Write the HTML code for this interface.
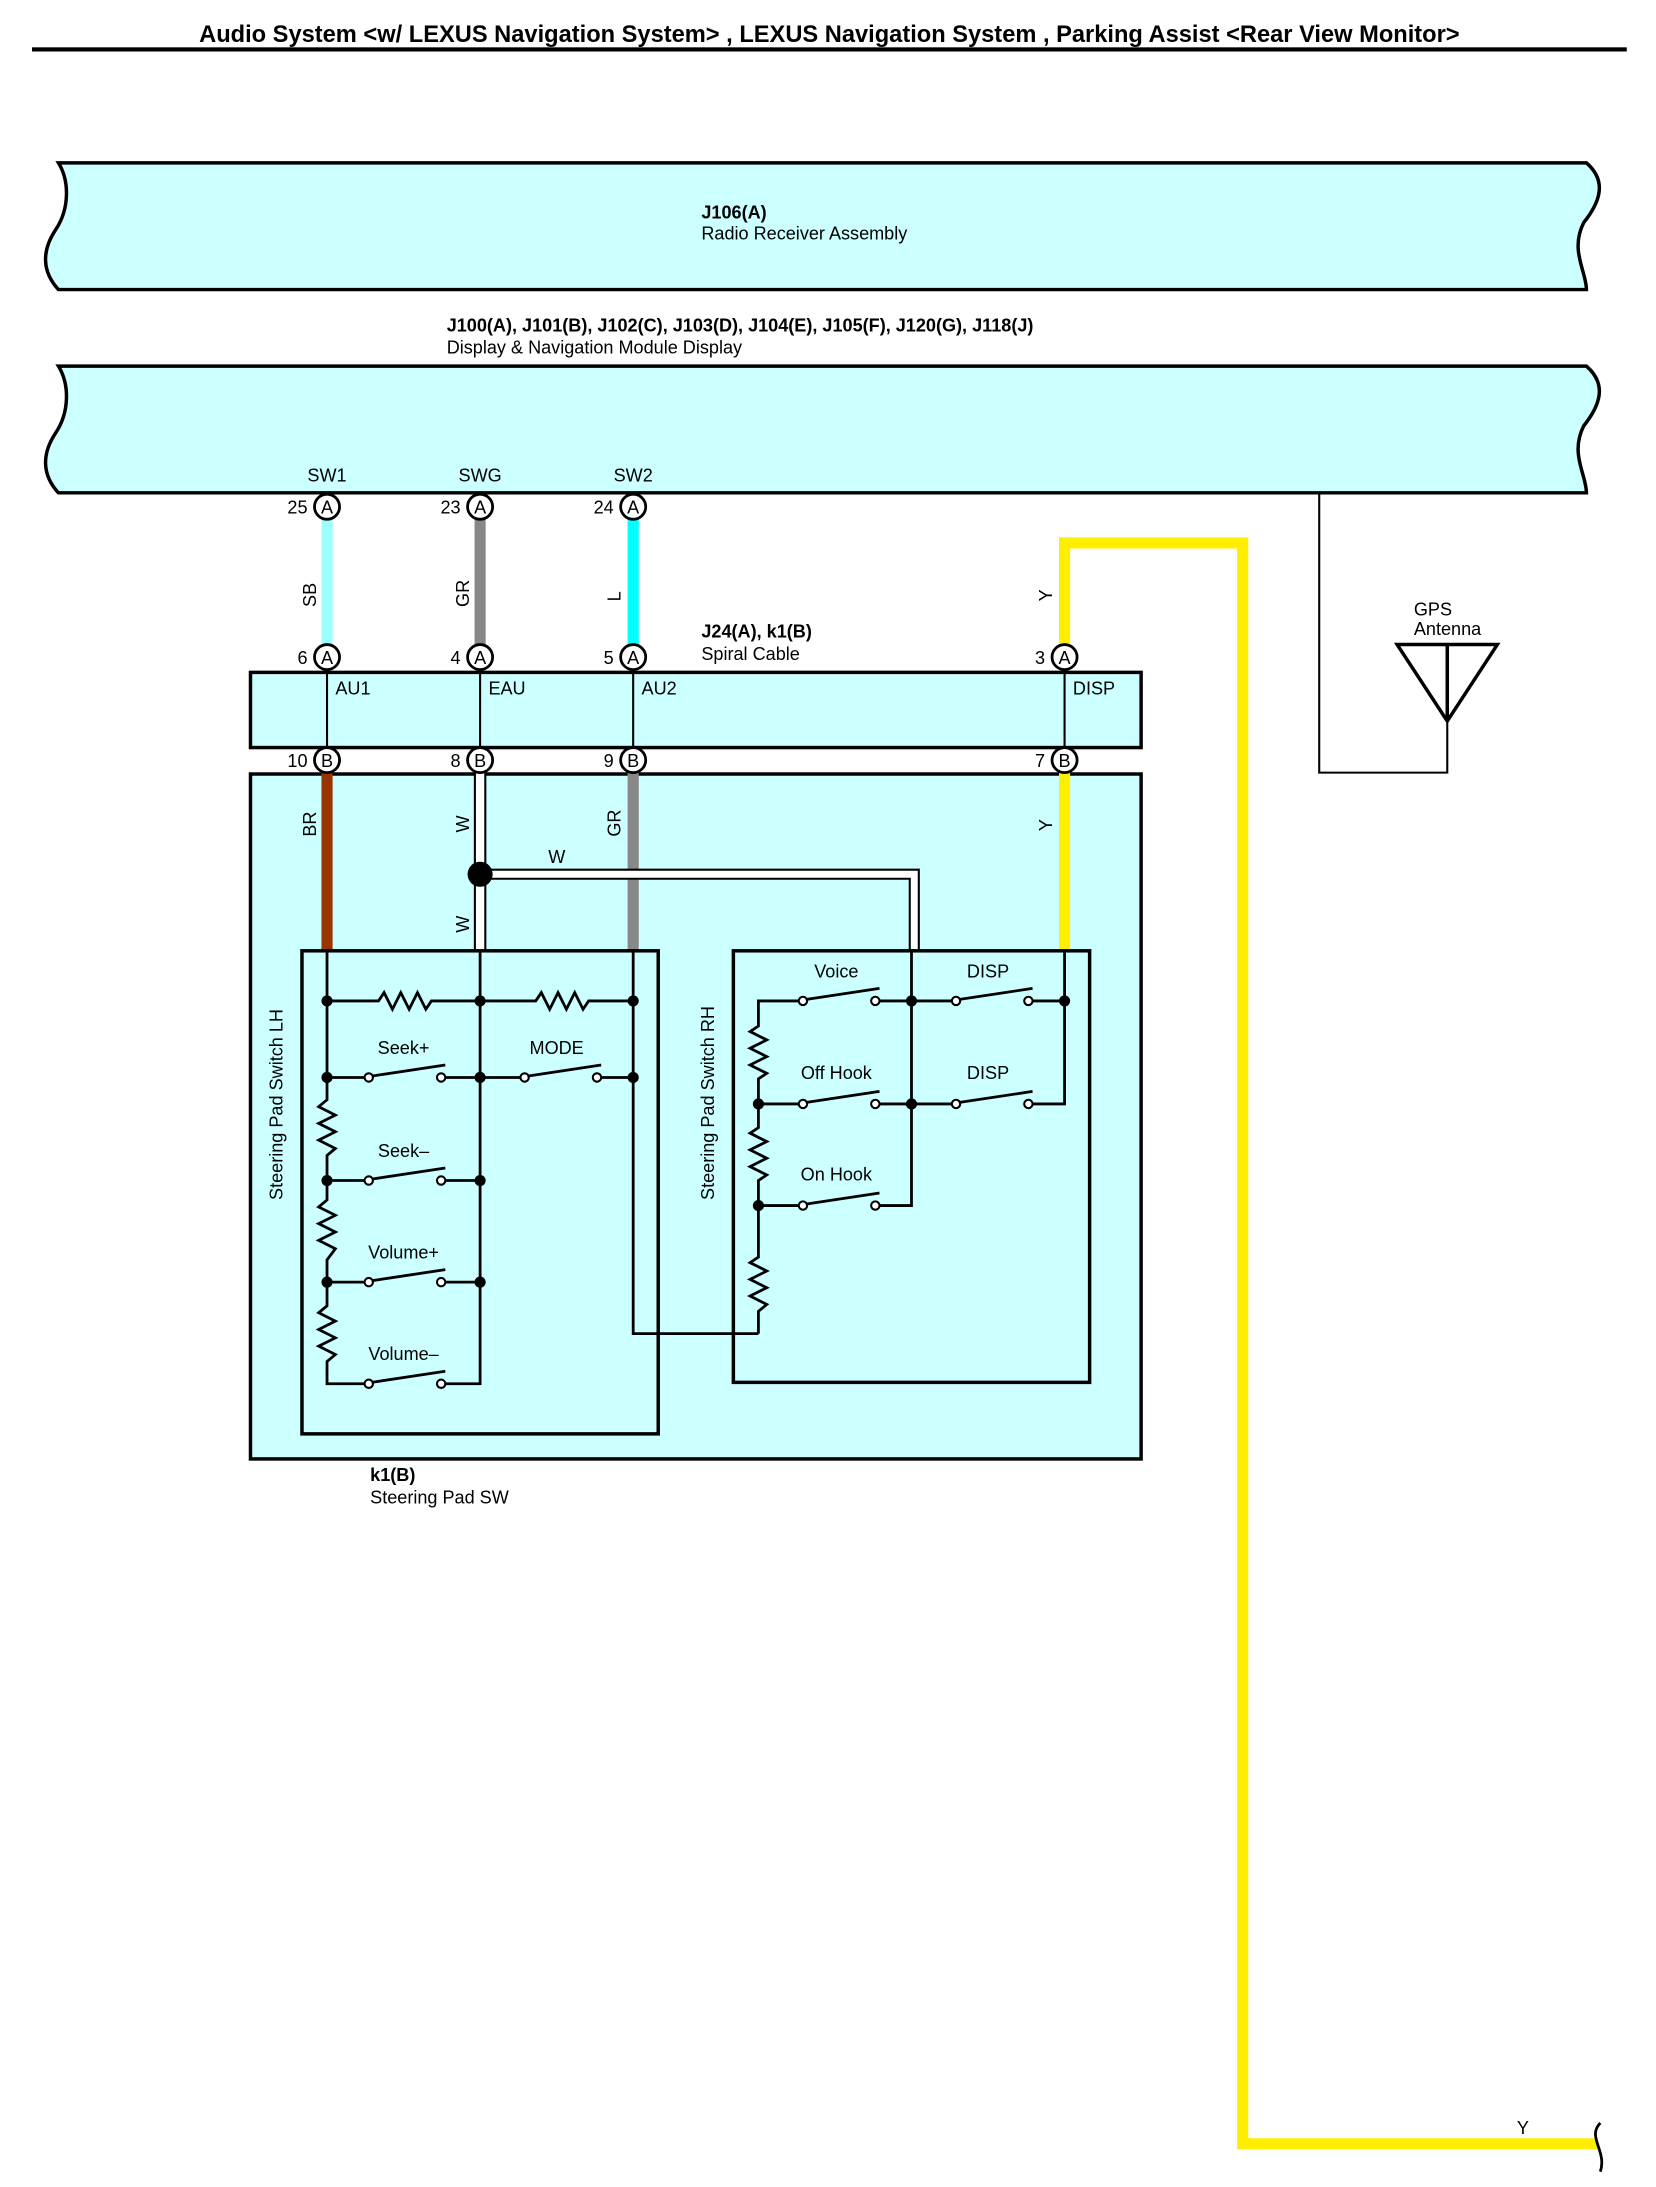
<!DOCTYPE html>
<html><head><meta charset="utf-8"><style>
html,body{margin:0;padding:0;background:#fff}
svg{display:block}
text{font-family:"Liberation Sans",Arial,sans-serif;font-size:13px;fill:#000}
.b{font-weight:bold}
</style></head><body>
<svg width="1656" height="2187" viewBox="0 0 1190 1571" preserveAspectRatio="none" xmlns="http://www.w3.org/2000/svg">
<defs>
<g id="sw"><circle cx="0" cy="0" r="3" fill="#fff" stroke="#000" stroke-width="1.5"/><circle cx="52" cy="0" r="3" fill="#fff" stroke="#000" stroke-width="1.5"/><line x1="2" y1="-1" x2="55" y2="-9" stroke="#000" stroke-width="2"/></g>
</defs>
<text x="596" y="30" text-anchor="middle" class="b" style="font-size:17px">Audio System &lt;w/ LEXUS Navigation System&gt; , LEXUS Navigation System , Parking Assist &lt;Rear View Monitor&gt;</text>
<rect x="23" y="34" width="1146" height="3" fill="#000"/>

<!-- Box1 -->
<path d="M42,117 L1140,117 C1155,130 1150,145 1138,160 C1128,180 1140,195 1140,208 L42,208 C30,195 30,180 40,165 C50,150 50,130 42,117 Z" fill="#ccffff" stroke="#000" stroke-width="2.5"/>
<text x="504" y="157" class="b">J106(A)</text>
<text x="504" y="172">Radio Receiver Assembly</text>
<text x="321" y="238" class="b">J100(A), J101(B), J102(C), J103(D), J104(E), J105(F), J120(G), J118(J)</text>
<text x="321" y="254">Display &amp; Navigation Module Display</text>
<path d="M42,263 L1140,263 C1155,276 1150,291 1138,306 C1128,326 1140,341 1140,354 L42,354 C30,341 30,326 40,311 C50,296 50,276 42,263 Z" fill="#ccffff" stroke="#000" stroke-width="2.5"/>

<!-- antenna -->
<polyline points="948,354 948,555 1040,555 1040,518" fill="none" stroke="#000" stroke-width="1.5"/>
<polygon points="1004,463 1076,463 1040,518" fill="none" stroke="#000" stroke-width="2.5"/>
<line x1="1040" y1="463" x2="1040" y2="518" stroke="#000" stroke-width="2.5"/>
<text x="1016" y="442">GPS</text><text x="1016" y="456">Antenna</text>

<!-- yellow long wire -->
<polyline points="765,462 765,390 893,390 893,1540 1148,1540" fill="none" stroke="#ffee00" stroke-width="8"/>
<text x="1090" y="1533">Y</text>
<path d="M1150,1525 C1140,1535 1155,1545 1150,1560" fill="none" stroke="#000" stroke-width="2"/>

<!-- upper wires -->
<line x1="235" y1="373" x2="235" y2="463" stroke="#99ffff" stroke-width="8"/>
<line x1="345" y1="373" x2="345" y2="463" stroke="#888" stroke-width="8"/>
<line x1="455" y1="373" x2="455" y2="463" stroke="#00ffff" stroke-width="8"/>
<text transform="translate(227,436) rotate(-90)">SB</text>
<text transform="translate(337,436) rotate(-90)">GR</text>
<text transform="translate(446,432) rotate(-90)">L</text>
<text transform="translate(756,432) rotate(-90)">Y</text>

<!-- spiral cable box -->
<rect x="180" y="483" width="640" height="54" fill="#ccffff" stroke="#000" stroke-width="2.5"/>
<g stroke="#000" stroke-width="1.5"><line x1="235" y1="481" x2="235" y2="537"/><line x1="345" y1="481" x2="345" y2="537"/><line x1="455" y1="481" x2="455" y2="537"/><line x1="765" y1="481" x2="765" y2="537"/></g>
<text x="241" y="499">AU1</text><text x="351" y="499">EAU</text><text x="461" y="499">AU2</text><text x="771" y="499">DISP</text>
<text x="504" y="458" class="b">J24(A), k1(B)</text>
<text x="504" y="474">Spiral Cable</text>

<!-- big box -->
<rect x="180" y="556" width="640" height="492" fill="#ccffff" stroke="#000" stroke-width="2.5"/>
<line x1="235" y1="555" x2="235" y2="683" stroke="#993300" stroke-width="8"/>
<line x1="345" y1="555" x2="345" y2="683" stroke="#000" stroke-width="9"/>
<line x1="345" y1="555" x2="345" y2="683" stroke="#fff" stroke-width="6"/>
<line x1="455" y1="555" x2="455" y2="683" stroke="#888" stroke-width="8"/>
<line x1="765" y1="555" x2="765" y2="683" stroke="#ffee00" stroke-width="8"/>
<polyline points="345,628 657,628 657,683" fill="none" stroke="#000" stroke-width="8"/>
<polyline points="345,628 657,628 657,683" fill="none" stroke="#fff" stroke-width="5"/>
<circle cx="345" cy="628" r="9" fill="#000"/>
<text transform="translate(227,601) rotate(-90)">BR</text>
<text transform="translate(337,598) rotate(-90)">W</text>
<text transform="translate(337,670) rotate(-90)">W</text>
<text transform="translate(446,601) rotate(-90)">GR</text>
<text transform="translate(756,597) rotate(-90)">Y</text>
<text x="394" y="620">W</text>

<!-- pins -->
<g font-size="13">
<g stroke="#000" stroke-width="2" fill="#fff">
<circle cx="235" cy="364" r="9"/><circle cx="345" cy="364" r="9"/><circle cx="455" cy="364" r="9"/>
<circle cx="235" cy="472" r="9"/><circle cx="345" cy="472" r="9"/><circle cx="455" cy="472" r="9"/><circle cx="765" cy="472" r="9"/>
<circle cx="235" cy="546" r="9"/><circle cx="345" cy="546" r="9"/><circle cx="455" cy="546" r="9"/><circle cx="765" cy="546" r="9"/>
</g>
<g text-anchor="middle">
<text x="235" y="369">A</text><text x="345" y="369">A</text><text x="455" y="369">A</text>
<text x="235" y="477">A</text><text x="345" y="477">A</text><text x="455" y="477">A</text><text x="765" y="477">A</text>
<text x="235" y="551">B</text><text x="345" y="551">B</text><text x="455" y="551">B</text><text x="765" y="551">B</text>
<text x="235" y="346">SW1</text><text x="345" y="346">SWG</text><text x="455" y="346">SW2</text>
</g>
<g text-anchor="end">
<text x="221" y="369">25</text><text x="331" y="369">23</text><text x="441" y="369">24</text>
<text x="221" y="477">6</text><text x="331" y="477">4</text><text x="441" y="477">5</text><text x="751" y="477">3</text>
<text x="221" y="551">10</text><text x="331" y="551">8</text><text x="441" y="551">9</text><text x="751" y="551">7</text>
</g>
</g>

<!-- LH box -->
<rect x="217" y="683" width="256" height="347" fill="none" stroke="#000" stroke-width="2.5"/>
<rect x="527" y="683" width="256" height="310" fill="none" stroke="#000" stroke-width="2.5"/>
<text transform="translate(203,862) rotate(-90)">Steering Pad Switch LH</text>
<text transform="translate(513,862) rotate(-90)">Steering Pad Switch RH</text>

<g fill="none" stroke="#000" stroke-width="2">
<!-- LH verticals -->
<polyline points="235,683 235,790 229,795 241,801 229,807 241,813 229,819 241,825 235,830 235,862 229,867 241,873 229,879 241,885 229,891 241,897 235,905 235,938 229,943 241,949 229,955 241,961 229,967 241,973 235,978 235,994 263,994"/>
<polyline points="345,683 345,994 317,994"/>
<polyline points="455,683 455,958 545,958"/>
<!-- row 719 -->
<polyline points="235,719 272,719 276,713 282,725 288,713 294,725 300,713 306,725 310,719 385,719 389,713 395,725 401,713 407,725 413,713 419,725 423,719 455,719"/>
<line x1="235" y1="774" x2="263" y2="774"/><line x1="317" y1="774" x2="375" y2="774"/><line x1="429" y1="774" x2="455" y2="774"/>
<line x1="235" y1="848" x2="263" y2="848"/><line x1="317" y1="848" x2="345" y2="848"/>
<line x1="235" y1="921" x2="263" y2="921"/><line x1="317" y1="921" x2="345" y2="921"/>
<!-- RH -->
<polyline points="765,683 765,793 739,793"/>
<polyline points="655,683 655,866 629,866"/>
<polyline points="575,719 545,719 545,737 539,741 551,747 539,753 551,759 539,765 551,771 545,775 545,810 539,814 551,820 539,826 551,832 539,838 551,844 545,848 545,903 539,907 551,913 539,919 551,925 539,931 551,937 545,942 545,958"/>
<line x1="629" y1="719" x2="685" y2="719"/><line x1="739" y1="719" x2="765" y2="719"/>
<line x1="545" y1="793" x2="575" y2="793"/><line x1="629" y1="793" x2="685" y2="793"/>
<line x1="545" y1="866" x2="575" y2="866"/>
</g>
<use href="#sw" x="265" y="774"/><use href="#sw" x="377" y="774"/>
<use href="#sw" x="265" y="848"/><use href="#sw" x="265" y="921"/><use href="#sw" x="265" y="994"/>
<use href="#sw" x="577" y="719"/><use href="#sw" x="687" y="719"/>
<use href="#sw" x="577" y="793"/><use href="#sw" x="687" y="793"/>
<use href="#sw" x="577" y="866"/>
<g fill="#000">
<circle cx="235" cy="719" r="4"/><circle cx="345" cy="719" r="4"/><circle cx="455" cy="719" r="4"/>
<circle cx="235" cy="774" r="4"/><circle cx="345" cy="774" r="4"/><circle cx="455" cy="774" r="4"/>
<circle cx="235" cy="848" r="4"/><circle cx="345" cy="848" r="4"/>
<circle cx="235" cy="921" r="4"/><circle cx="345" cy="921" r="4"/>
<circle cx="655" cy="719" r="4"/><circle cx="765" cy="719" r="4"/>
<circle cx="545" cy="793" r="4"/><circle cx="655" cy="793" r="4"/><circle cx="545" cy="866" r="4"/>
</g>
<g text-anchor="middle">
<text x="290" y="757">Seek+</text><text x="400" y="757">MODE</text>
<text x="290" y="831">Seek–</text><text x="290" y="904">Volume+</text><text x="290" y="977">Volume–</text>
<text x="601" y="702">Voice</text><text x="710" y="702">DISP</text>
<text x="601" y="775">Off Hook</text><text x="710" y="775">DISP</text>
<text x="601" y="848">On Hook</text>
</g>
<text x="266" y="1064" class="b">k1(B)</text>
<text x="266" y="1080">Steering Pad SW</text>
</svg>
</body></html>
